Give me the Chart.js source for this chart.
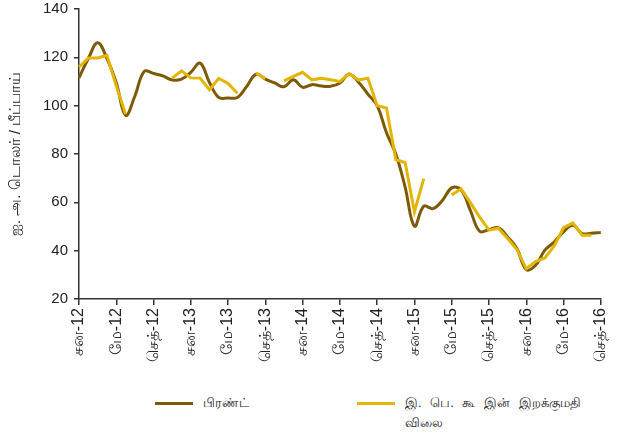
<!DOCTYPE html>
<html>
<head>
<meta charset="utf-8">
<script src="https://cdn.jsdelivr.net/npm/chart.js@4.4.1/dist/chart.umd.min.js"></script>
<style>
  html, body { margin: 0; padding: 0; background: #fff; }
  #wrap { position: relative; width: 617px; height: 436px; overflow: hidden; font-family: 'Liberation Sans', Arial, sans-serif; color: #222; }
  #box { position: absolute; left: 0; top: -6px; width: 623px; height: 378px; }
  .lg { position: absolute; font-size: 13px; line-height: 20px; }
  .lg .sw { position: absolute; width: 38px; height: 3px; top: 9px; }
</style>
</head>
<body>
<div id="wrap">
  <div id="box"><canvas id="chart"></canvas></div>
  <div class="lg" style="left:155px; top:393px;"><span class="sw" style="left:0; background:#7d5a06"></span><span style="margin-left:48px">பிரண்ட்</span></div>
  <div class="lg" style="left:357px; top:393px;"><span class="sw" style="left:0; background:#e3b505"></span><div style="margin-left:48px; word-spacing:5px">இ. பெ. கூ இன் இறக்குமதி<br>விலை</div></div>
</div>
<script>
// tick labels, one every 4 months (Jan / May / Sep), Jan-12 .. Sep-16
const TICK_LABELS = ['சன-12', 'மே-12', 'செத்-12', 'சன-13', 'மே-13', 'செத்-13', 'சன-14', 'மே-14',
  'செத்-14', 'சன-15', 'மே-15', 'செத்-15', 'சன-16', 'மே-16', 'செத்-16'];

// monthly values, Jan-12 .. Sep-16 (57 months)
const BRENT = [
  111.5, 119.5, 126.0, 119.5, 109.5, 96.0, 104.0, 114.2, 113.3, 112.3, 110.6, 111.0,
  113.8, 117.6, 109.6, 103.4, 103.2, 103.4, 108.0, 113.0, 111.0, 109.4, 107.8, 110.7,
  107.6, 108.7, 108.1, 108.0, 109.4, 113.0, 109.7, 104.8, 100.0, 88.8, 80.0, 66.3,
  50.1, 58.4, 57.4, 60.8, 66.0, 65.2, 56.7, 48.0, 48.7, 49.5, 45.7, 40.9,
  32.2, 34.0, 40.2, 43.6, 47.8, 50.5, 47.1, 47.2, 47.5
];
const IMPORT_PRICE = [
  116.0, 119.7, 119.7, 120.8, 108.2, 96.5, null, null, null, null, 111.4, 114.4,
  111.5, 111.4, 106.5, 111.3, 109.2, 105.1, null, 113.5, 111.2, null, 110.3, 112.1,
  113.8, 110.7, 111.3, 110.7, 110.0, 113.3, 110.6, 111.4, 100.0, 99.0, 77.6, 76.5,
  56.0, 69.8, null, null, 63.0, 65.6, 59.9, 53.9, 48.5, 49.3, 45.0, 40.5,
  32.5, 35.5, 37.0, 42.0, 49.5, 51.5, 46.4, 46.4, null
];

const labels = BRENT.map((_, i) => (i % 4 === 0 ? TICK_LABELS[i / 4] : ''));

const AXIS = '#333';
const FONT = "'Liberation Sans', Arial, sans-serif";

new Chart(document.getElementById('chart'), {
  type: 'line',
  data: {
    labels,
    datasets: [
      {
        label: 'இ. பெ. கூ இன் இறக்குமதி விலை',
        data: IMPORT_PRICE,
        borderColor: '#e3b505',
        borderWidth: 3,
        pointRadius: 0,
        tension: 0,
        spanGaps: false,
        order: 0,
      },
      {
        label: 'பிரண்ட்',
        data: BRENT,
        borderColor: '#7d5a06',
        borderWidth: 3,
        pointRadius: 0,
        tension: 0.4,
        order: 1,
      },
    ],
  },
  options: {
    responsive: true,
    maintainAspectRatio: false,
    animation: false,
    layout: { padding: { left: 0, right: 0, top: 1, bottom: 0 } },
    plugins: { legend: { display: false }, tooltip: { enabled: false } },
    scales: {
      x: {
        offset: false,
        afterFit: s => { s.height = 73; },
        border: { display: true, color: AXIS, width: 1.5 },
        grid: { display: true, drawOnChartArea: false, drawTicks: true, tickLength: 6, color: AXIS, lineWidth: 1.5 },
        ticks: {
          autoSkip: false, minRotation: 90, maxRotation: 90, padding: 3,
          color: '#222', font: { family: FONT, size: 16 },
          callback: function (v) { const t = this.getLabelForValue(v); return t === '' ? null : t; },
        },
      },
      y: {
        min: 20, max: 140,
        afterFit: s => { s.width = 79; },
        border: { display: true, color: AXIS, width: 1.5 },
        grid: { display: true, drawOnChartArea: false, drawTicks: true, tickLength: 5, color: AXIS, lineWidth: 1.5 },
        ticks: { stepSize: 20, padding: 6, color: '#222', font: { family: FONT, size: 15 } },
        title: {
          display: true, text: 'ஐ. அ. டொலர் / பீப்பாய்',
          color: '#222', font: { family: FONT, size: 15 }, padding: { top: 7, bottom: 0 },
        },
      },
    },
  },
});
</script>
</body>
</html>
